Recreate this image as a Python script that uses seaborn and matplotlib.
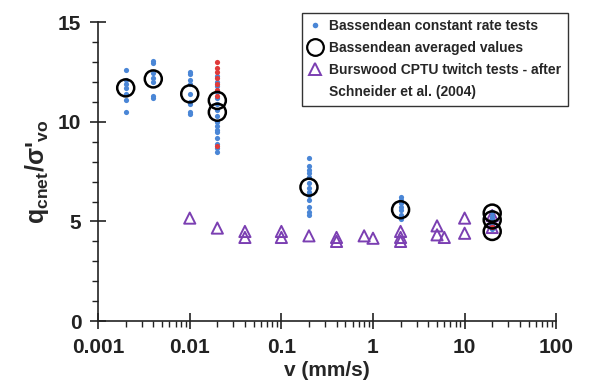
import numpy as np
import pandas as pd
import seaborn as sns
import matplotlib
matplotlib.use('Agg')
import matplotlib.pyplot as plt
from matplotlib.lines import Line2D
from matplotlib.ticker import LogLocator, NullFormatter, FixedLocator, MultipleLocator

# Bassendean constant rate tests (blue)
rate_v = [0.002]*7 + [0.004]*7 + [0.01]*9 + [0.02]*16 + [0.2]*13 + [2]*7 + [20]*5
rate_q = [12.6, 12.1, 11.9, 11.7, 11.4, 11.1, 10.5,
          13.05, 12.95, 12.45, 12.2, 12.0, 11.3, 11.2,
          12.5, 12.4, 12.1, 11.9, 11.4, 11.0, 10.9, 10.5, 10.4,
          12.3, 12.0, 11.8, 11.5, 11.2, 10.9, 10.6, 10.3, 10.0, 9.8, 9.5, 9.2, 8.9, 8.7, 8.5, 9.6,
          8.2, 7.8, 7.6, 7.45, 7.25, 6.95, 6.7, 6.5, 6.35, 6.1, 5.75, 5.5, 5.35,
          6.25, 6.1, 5.95, 5.75, 5.6, 5.35, 5.1,
          5.5, 5.3, 5.1, 4.9, 4.6]

# red points in the 0.02 and 20 mm/s columns
red_v = [0.02]*8 + [20]
red_q = [13.0, 12.7, 12.5, 12.2, 11.9, 11.6, 11.3, 8.8, 4.7]

# Bassendean averaged values
avg_v = [0.002, 0.004, 0.01, 0.02, 0.02, 0.2, 2, 20, 20, 20]
avg_q = [11.7, 12.15, 11.4, 11.07, 10.48, 6.72, 5.59, 5.42, 5.08, 4.5]

# Burswood CPTU twitch tests - Schneider et al. (2004)
cptu_v = [0.01, 0.02, 0.04, 0.04, 0.1, 0.1, 0.2, 0.4, 0.4, 0.8, 1.0,
          2, 2, 2, 5, 5, 6, 10, 10, 20, 20, 20]
cptu_q = [5.17, 4.67, 4.5, 4.2, 4.5, 4.2, 4.28, 4.2, 4.0, 4.28, 4.16,
          4.5, 4.2, 4.0, 4.78, 4.33, 4.2, 5.17, 4.41, 5.3, 5.0, 4.7]

blue = '#4a86d6'
red = '#e03a3a'
purple = '#7b3fb2'

sns.set_style('ticks')
plt.rcParams['font.family'] = ['Liberation Sans', 'DejaVu Sans']
plt.rcParams['font.weight'] = 'bold'
plt.rcParams['mathtext.fontset'] = 'custom'
plt.rcParams['mathtext.rm'] = 'Liberation Sans:bold'
plt.rcParams['mathtext.it'] = 'Liberation Sans:bold'
plt.rcParams['mathtext.bf'] = 'Liberation Sans:bold'

fig = plt.figure(figsize=(6.02, 3.81), dpi=100)
ax = fig.add_axes([0.163, 0.157, 0.761, 0.785])

rate_df = pd.DataFrame({'v': rate_v, 'q': rate_q})
red_df = pd.DataFrame({'v': red_v, 'q': red_q})
avg_df = pd.DataFrame({'v': avg_v, 'q': avg_q})
cptu_df = pd.DataFrame({'v': cptu_v, 'q': cptu_q})

sns.scatterplot(data=cptu_df, x='v', y='q', ax=ax, marker='^', s=65,
                facecolor='none', edgecolor=purple, linewidth=1.4, legend=False, zorder=3)
sns.scatterplot(data=rate_df, x='v', y='q', ax=ax, color=blue, s=14,
                linewidth=0, legend=False, zorder=4)
sns.scatterplot(data=red_df, x='v', y='q', ax=ax, color=red, s=14,
                linewidth=0, legend=False, zorder=4)
sns.scatterplot(data=avg_df, x='v', y='q', ax=ax, marker='o', s=150,
                facecolor='none', edgecolor='black', linewidth=1.8, legend=False, zorder=5)

ax.set_xscale('log')
ax.set_xlim(0.001, 100)
ax.set_ylim(0, 15)
sns.despine(ax=ax)
for axis in ['left', 'bottom']:
    ax.spines[axis].set_linewidth(1.2)
    ax.spines[axis].set_color('#222222')

ax.xaxis.set_major_locator(FixedLocator([0.001, 0.01, 0.1, 1, 10, 100]))
ax.xaxis.set_minor_locator(LogLocator(base=10, subs=np.arange(2, 10), numticks=20))
ax.xaxis.set_minor_formatter(NullFormatter())
ax.set_xticklabels(['0.001', '0.01', '0.1', '1', '10', '100'])
ax.yaxis.set_major_locator(MultipleLocator(5))
ax.yaxis.set_minor_locator(MultipleLocator(1))

ax.tick_params(axis='both', which='major', direction='inout', length=12, width=1.2,
               labelsize=15, colors='#222222', pad=6)
ax.tick_params(axis='both', which='minor', direction='out', length=4, width=1.0, colors='#222222')
for lab in ax.get_xticklabels() + ax.get_yticklabels():
    lab.set_fontweight('bold')

ax.set_xlabel('v (mm/s)', fontsize=15, fontweight='bold', labelpad=3)
ax.set_ylabel(r"q$_{cnet}$/σ'$_{vo}$", fontsize=18, fontweight='bold', labelpad=5)

handles = [
    Line2D([], [], marker='o', linestyle='none', markersize=4, color=blue, markeredgewidth=0),
    Line2D([], [], marker='o', linestyle='none', markersize=12, markerfacecolor='none',
           markeredgecolor='black', markeredgewidth=1.6),
    Line2D([], [], marker='^', linestyle='none', markersize=8.5, markerfacecolor='none',
           markeredgecolor=purple, markeredgewidth=1.4),
    Line2D([], [], linestyle='none'),
]
labels = ['Bassendean constant rate tests', 'Bassendean averaged values',
          'Burswood CPTU twitch tests - after', 'Schneider et al. (2004)']
leg = fig.legend(handles, labels, loc='upper left', bbox_to_anchor=(0.502, 0.966),
                 frameon=True, fancybox=False, edgecolor='#333333', framealpha=1,
                 prop={'size': 10, 'weight': 'bold'}, handlelength=1.0,
                 handletextpad=0.5, labelspacing=0.58, borderpad=0.45, borderaxespad=0)
leg.get_frame().set_linewidth(1.0)

fig.savefig('out.png', dpi=100)
